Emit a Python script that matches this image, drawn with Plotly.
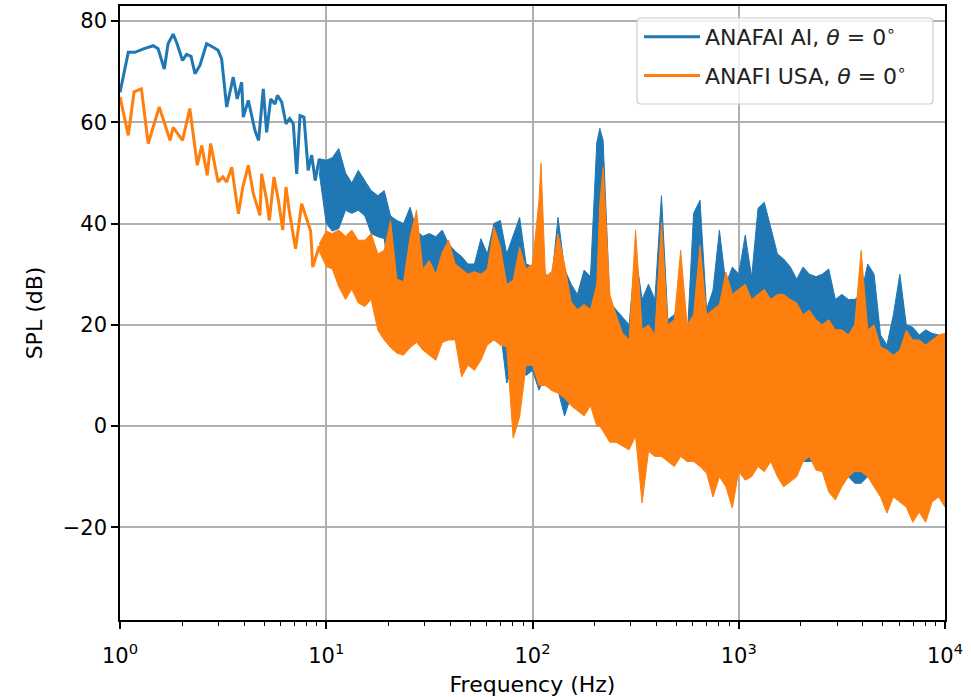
import plotly.graph_objects as go

# ---------------------------------------------------------------------------
# Data (frequency in Hz, SPL in dB)
# ---------------------------------------------------------------------------

# Low-frequency part, individual spectral lines
f_ai_low = [1.0, 1.097, 1.18, 1.30, 1.45, 1.53, 1.64, 1.71, 1.81, 1.88, 2.01,
            2.10, 2.21, 2.31, 2.44, 2.63, 2.83, 2.99, 3.11, 3.29, 3.54, 3.70,
            3.89, 3.96, 4.19, 4.51, 4.70, 4.95, 5.14, 5.38, 5.64, 5.80, 6.08,
            6.38, 6.65, 6.92, 7.19, 7.46, 7.80, 8.17, 8.50, 8.84, 9.25]
spl_ai_low = [65.9, 73.8, 73.8, 74.5, 75.1, 74.5, 70.5, 75.5, 77.4, 75.8, 72.2,
              73.4, 73.0, 69.6, 71.2, 75.5, 74.8, 74.2, 72.5, 63.0, 68.9, 64.6,
              67.9, 61.0, 64.3, 58.4, 56.4, 66.6, 58.0, 64.6, 63.6, 65.3, 64.0,
              59.7, 60.7, 59.7, 49.8, 61.3, 61.0, 50.5, 53.5, 48.5, 52.8]

f_usa_low = [1.0, 1.097, 1.17, 1.27, 1.37, 1.55, 1.75, 1.81, 2.01, 2.18, 2.37,
             2.49, 2.65, 2.75, 2.99, 3.15, 3.29, 3.48, 3.75, 3.94, 4.19, 4.43,
             4.77, 4.86, 5.14, 5.30, 5.58, 5.86, 6.15, 6.38, 6.65, 7.1, 7.6,
             7.9, 8.4, 8.6, 9.25]
spl_usa_low = [65.0, 57.4, 66.0, 66.6, 55.8, 63.0, 56.4, 59.0, 56.4, 62.7, 51.5,
               55.4, 49.5, 55.8, 48.2, 49.2, 48.2, 51.1, 41.9, 47.2, 51.5, 45.9,
               41.6, 49.8, 44.6, 40.6, 49.2, 44.6, 38.7, 47.2, 41.9, 35.0, 43.9,
               41.9, 38.5, 31.4, 35.5]

# Dense part above ~9 Hz: upper / lower envelope of the spectrum
f_band = [9.25, 10, 10.7, 11.5, 12.4, 13.3, 14.3, 15.4, 16.5, 17.8, 19.1,
          20.5, 22, 23.7, 25.5, 27.4, 29.4, 31.6, 34, 36.5, 39.2, 42.2, 45.3,
          48.7, 52.3, 56.2, 60.4, 65, 69.8, 75, 80.6, 86.6, 93.1, 100, 107.5,
          110, 115.5, 124, 133, 143, 154, 165, 178, 191, 205, 212, 220, 237,
          254, 273, 294, 316, 340, 365, 392, 422, 453, 487, 523, 562, 604, 649,
          698, 750, 806, 866, 931, 1000, 1075, 1155, 1240, 1330, 1430, 1540,
          1650, 1780, 1910, 2050, 2200, 2370, 2540, 2730, 2940, 3160, 3400,
          3650, 3920, 4220, 4530, 4870, 5230, 5620, 6040, 6490, 6980, 7500,
          8060, 8660, 9310, 10000]

ai_upper = [52.8, 52.5, 53, 54.8, 50, 48, 50.5, 48.5, 46.5, 45.5, 46.5, 41.5,
            40.6, 40, 43.2, 38.5, 37.5, 38, 37.4, 38.7, 36, 34.5, 33.5, 32,
            32, 37, 34, 40, 40.6, 34, 37.4, 41.2, 32, 31.5, 33, 35, 30,
            29, 41.2, 31, 28, 26, 30.8, 29.5, 56, 58.8, 56.4, 24.5, 23, 21.5,
            20, 34, 25, 28, 25, 45.5, 21, 22, 25, 17, 42, 44.6, 23, 26.8,
            38.7, 28, 31.4, 30, 37.7, 29.4, 43, 44.2, 39, 34, 33, 31.4, 29,
            31.4, 30, 29.5, 30, 31, 25, 26, 25, 25, 26, 32,
            30, 18, 16, 22, 30, 20, 19.5, 18, 19, 18.3, 18,
            17]
ai_lower = [50, 40, 38.5, 39, 42.6, 42, 42.6, 41.5, 38, 37.4, 37, 28,
            27.4, 28, 29, 26, 24, 23, 22, 16.4, 20, 18, 15, 16,
            15, 16, 17, 20, 19, 8.5, 12, 12, 10, 11, 7.1, 8, 9,
            9, 7, 2, 6, 5, 4, 5, 5, 5.7, 3, 0, 0, -1,
            -1, -0.8, -2, -3, -3, -2.8, -2.8, -3, -4, -5, -6, -6, -6, -8,
            -8, -8, -9, -9, -9, -8, -7, -7, -7, -8, -8, -9, -8,
            -7, -7, -7, -8, -9, -10, -10, -10, -11.3, -11.3, -10,
            -11, -12, -13, -13, -13, -13, -14, -14, -14, -13, -13,
            -13]

usa_upper = [36, 38.5, 38, 38.7, 37.5, 38.7, 36.7, 36.7, 38, 34, 34.7, 40.6,
             29, 28.5, 37.4, 42.6, 31, 32.7, 30, 34.3, 36.7, 32, 31, 30,
             30.5, 30, 31, 39.3, 35.5, 28, 28.8, 35.3, 31, 32, 44.6, 51.9,
             29.5, 30.5, 38, 32, 24.5, 23, 24, 23, 28, 44, 51.1, 26, 22, 18.4,
             17, 38.7, 19, 20, 18, 40.3, 20, 21, 34.7, 20, 22, 35.7, 22, 23,
             24, 30.4, 26, 27, 28, 25, 26, 27, 25, 26, 26, 25, 24.3,
             22, 22.9, 21, 20, 21, 19, 19, 18, 20, 34.7, 19,
             20, 15.6, 15, 14, 15, 18.9, 17, 17, 16, 17, 18,
             18.3]
usa_lower = [34.5, 31.5, 31, 27.5, 25, 27, 24.3, 23.6, 25, 18.9, 17, 15.5,
             14.4, 14, 15.5, 16.5, 15, 14, 13, 16.5, 17, 17, 9.7, 12,
             11, 13, 16, 17, 16, 15.6, -2.4, 1.8, 12, 12, 8, 8, 8,
             7, 6.5, 5.5, 4, 3, 2, 4, 0, 0, -1, -3.2, -3.2, -4,
             -4.7, -2, -15.2, -5, -6, -6, -7, -8, -6, -7, -7, -8, -9.3, -14,
             -10, -12, -16.2, -9, -10.7, -10, -8, -9, -7, -10, -12, -11, -10,
             -7, -6, -8.7, -9, -13, -14.6, -12, -10, -9, -9, -10,
             -12, -14, -17.2, -14, -15, -16, -19, -17, -19, -15, -14,
             -16]

series_names = ["ANAFAI AI, <i>θ</i> = 0<sup>∘</sup>",
                "ANAFI USA, <i>θ</i> = 0<sup>∘</sup>"]

x_tick_values = [1, 10, 100, 1000, 10000]
x_tick_text = ["10<sup>0</sup>", "10<sup>1</sup>", "10<sup>2</sup>",
               "10<sup>3</sup>", "10<sup>4</sup>"]
y_tick_values = [-20, 0, 20, 40, 60, 80]

# ---------------------------------------------------------------------------
# Figure
# ---------------------------------------------------------------------------
BLUE = "#1f77b4"
ORANGE = "#ff7f0e"
FONT = "DejaVu Sans"

fig = go.Figure()


def add_series(name, group, color, f_low, spl_low, upper, lower):
    # resolved low-frequency lines
    fig.add_trace(go.Scatter(
        x=f_low, y=spl_low, mode="lines", name=name, legendgroup=group,
        line=dict(color=color, width=3), hoverinfo="skip"))
    # dense high-frequency spectrum drawn as its min/max envelope
    fig.add_trace(go.Scatter(
        x=f_band + f_band[::-1], y=upper + lower[::-1], mode="lines",
        fill="toself", fillcolor=color, legendgroup=group, showlegend=False,
        line=dict(color=color, width=1), hoverinfo="skip"))


add_series(series_names[0], "ai", BLUE, f_ai_low, spl_ai_low,
           ai_upper, ai_lower)
add_series(series_names[1], "usa", ORANGE, f_usa_low, spl_usa_low,
           usa_upper, usa_lower)

minor_vals = [m * 10 ** e for e in range(4) for m in range(2, 10)]

fig.update_xaxes(
    type="log", range=[0, 4], automargin=False,
    tickmode="array", tickvals=x_tick_values, ticktext=x_tick_text,
    ticks="outside", ticklen=7, tickwidth=1.6, tickcolor="black",
    ticklabelstandoff=9,
    minor=dict(tickmode="array", tickvals=minor_vals, ticks="outside",
               ticklen=4, tickwidth=1.2, tickcolor="black", showgrid=False),
    showgrid=True, gridcolor="#b0b0b0", gridwidth=1.5,
    showline=True, linecolor="black", linewidth=1.6, mirror=True,
    zeroline=False,
    tickfont=dict(family=FONT, size=21, color="black"),
    title=dict(text="Frequency (Hz)", standoff=13,
               font=dict(family=FONT, size=22, color="black")),
)
fig.update_yaxes(
    range=[-38.3, 82.95], automargin=False,
    tickmode="array", tickvals=y_tick_values,
    ticks="outside", ticklen=7, tickwidth=1.6, tickcolor="black",
    showgrid=True, gridcolor="#b0b0b0", gridwidth=1.5,
    showline=True, linecolor="black", linewidth=1.6, mirror=True,
    zeroline=False,
    tickfont=dict(family=FONT, size=21, color="black"),
    title=dict(text="SPL (dB)", standoff=14,
               font=dict(family=FONT, size=22, color="black")),
)

# legend frame (rounded box, semi-transparent white)
fig.add_shape(
    type="path", xref="paper", yref="paper",
    xsizemode="pixel", ysizemode="pixel", xanchor=1, yanchor=1,
    path=("M -304,-12 L -16,-12 Q -12,-12 -12,-16 L -12,-94 "
          "Q -12,-98 -16,-98 L -304,-98 Q -308,-98 -308,-94 "
          "L -308,-16 Q -308,-12 -304,-12 Z"),
    line=dict(color="#cccccc", width=1.2),
    fillcolor="rgba(255,255,255,0.8)", layer="above")

fig.update_layout(
    width=971, height=697,
    margin=dict(l=120, r=26, t=6, b=77),
    paper_bgcolor="white", plot_bgcolor="white",
    font=dict(family=FONT, size=21, color="black"),
    showlegend=True,
    legend=dict(
        x=(639 - 120) / 825, y=1 - 10 / 614, xanchor="left", yanchor="top",
        bgcolor="rgba(0,0,0,0)", borderwidth=0,
        traceorder="grouped", tracegroupgap=7, itemwidth=56,
        font=dict(family=FONT, size=22, color="#222222")),
)

fig.write_html("out.html")
